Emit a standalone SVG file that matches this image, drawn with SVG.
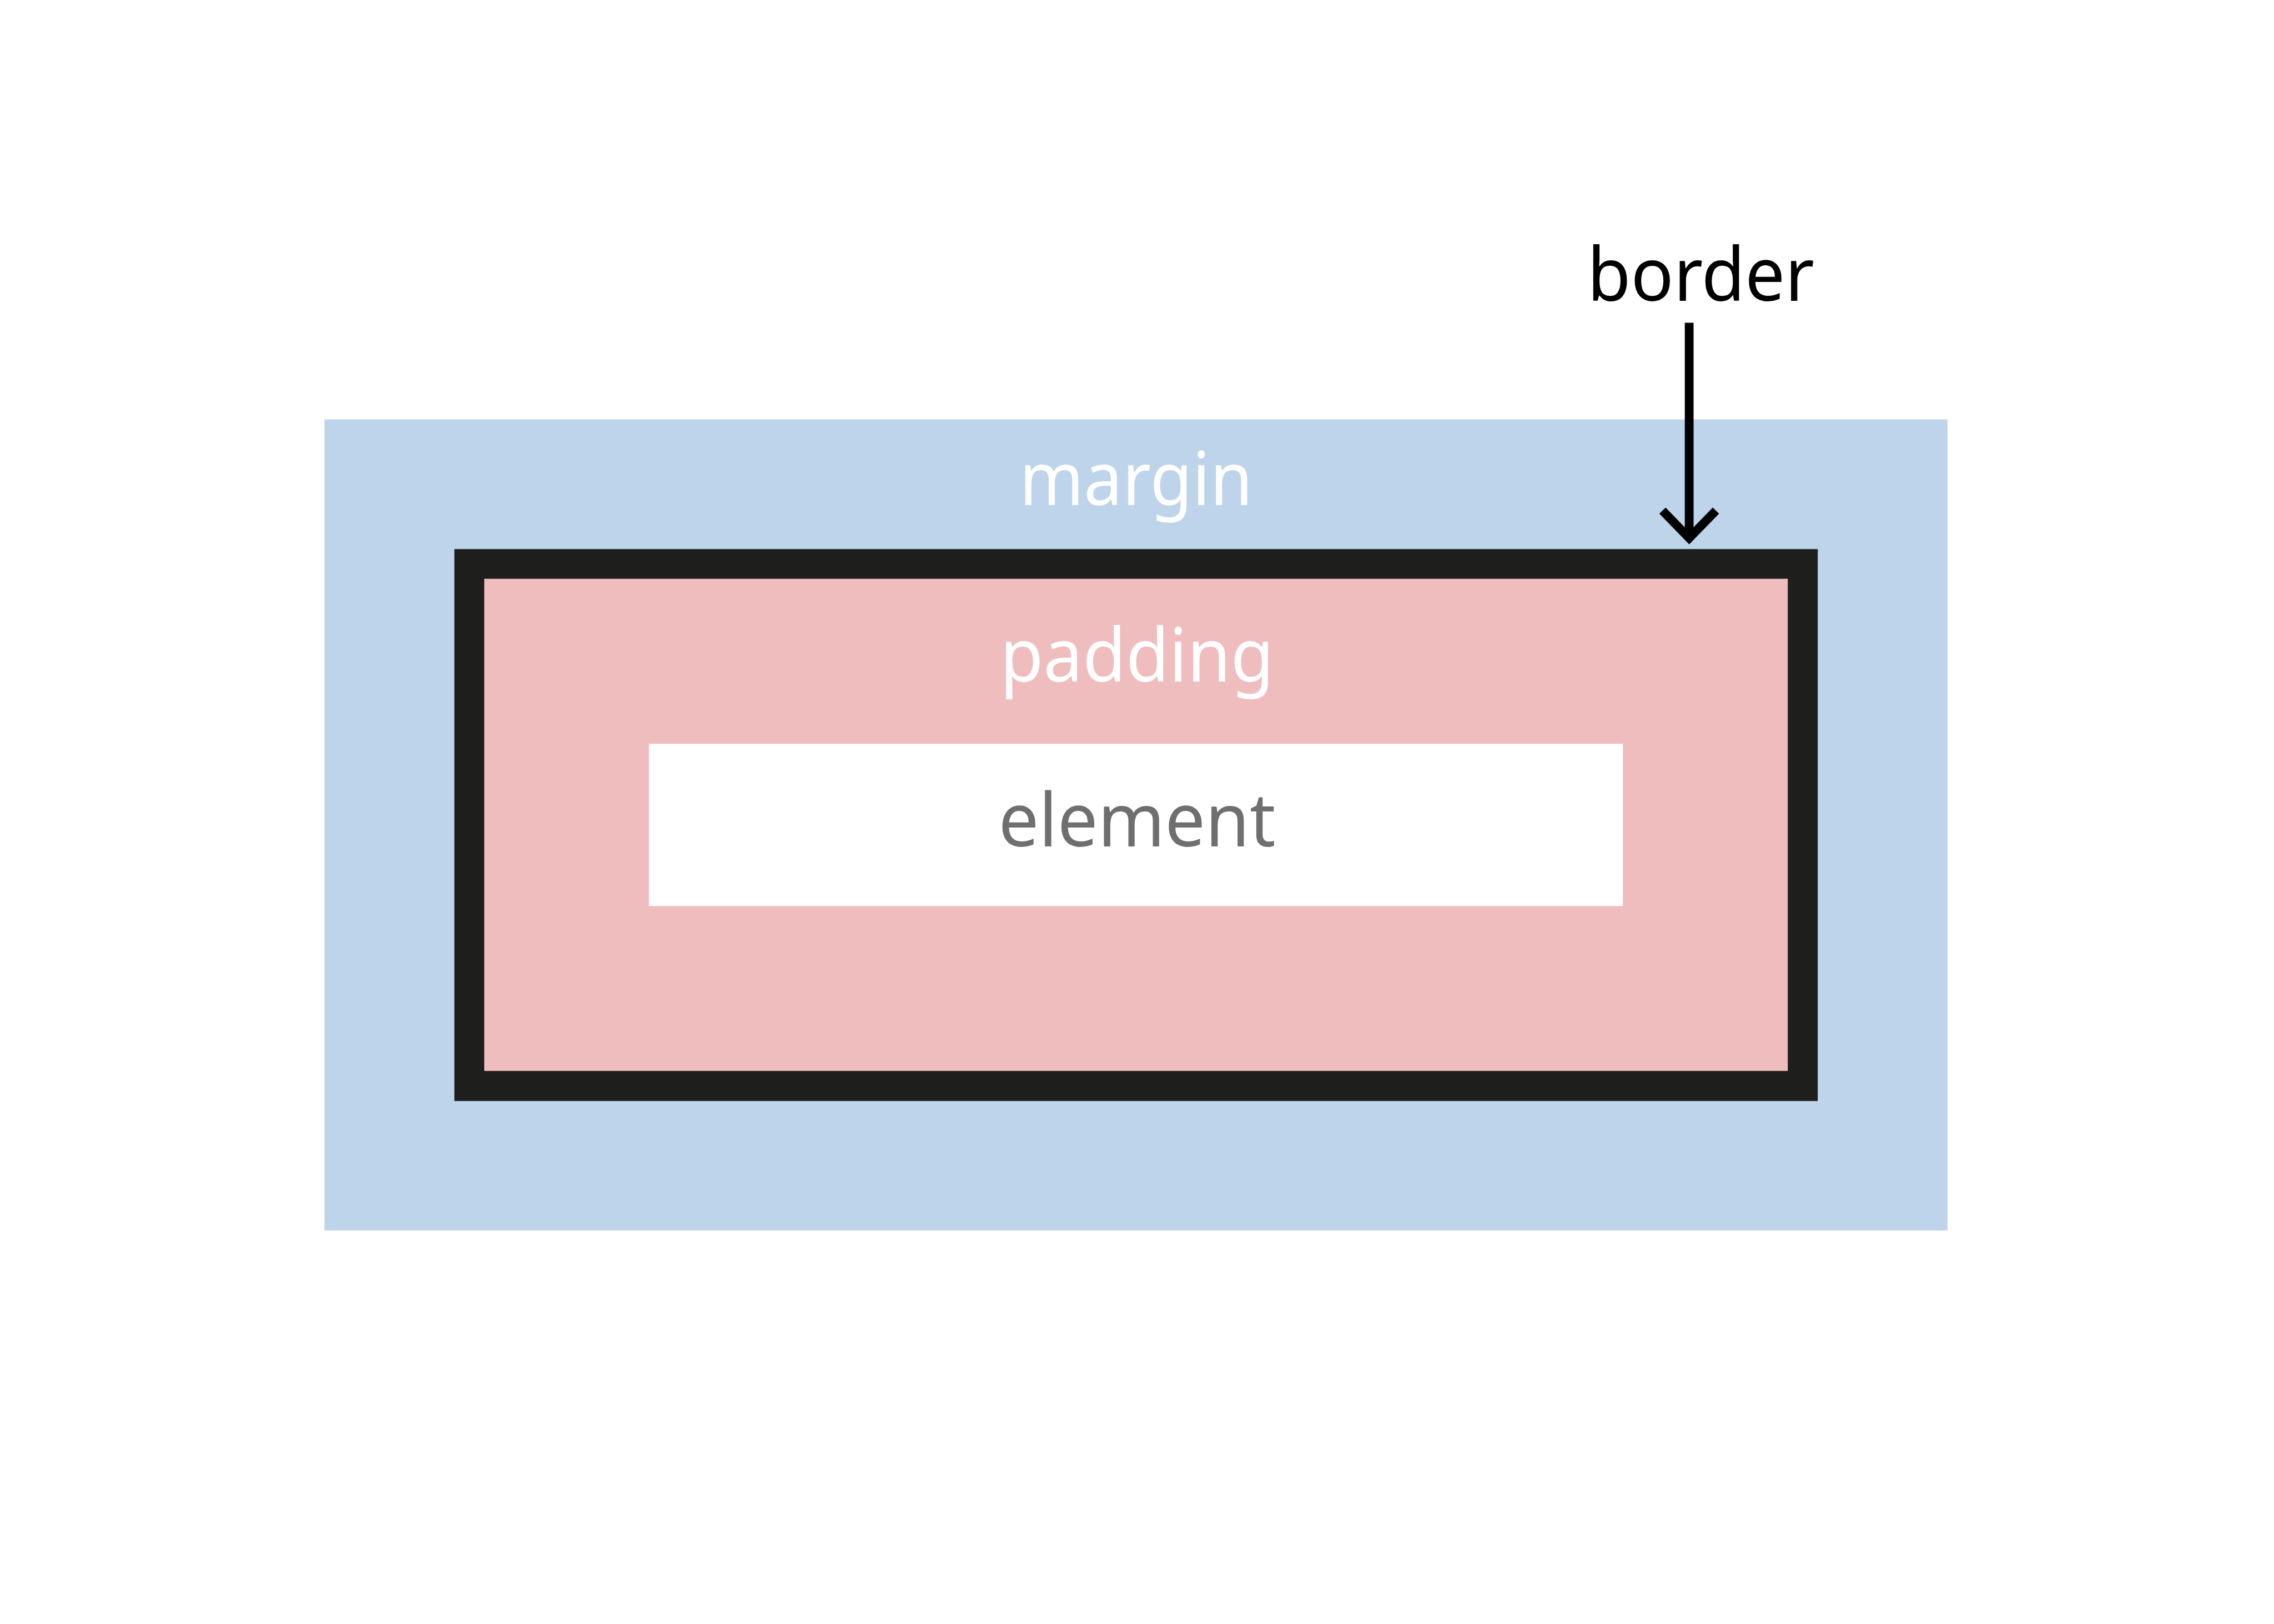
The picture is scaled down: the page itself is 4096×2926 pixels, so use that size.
<svg xmlns="http://www.w3.org/2000/svg" width="4096" height="2926" viewBox="0 0 4096 2926">
  <style>
    .lbl { font-family: "Noto Sans", "Open Sans", "Liberation Sans", sans-serif; font-size: 134px; text-anchor: middle; }
    .white { fill: #FFFFFF; }
    .grey { fill: #6F6F6F; }
    .dark { fill: #000000; }
    .conn { stroke: #000000; stroke-width: 15.8; fill: none; }
  </style>
  <defs>
    <marker id="openArrow" markerUnits="userSpaceOnUse" orient="auto" refX="0" refY="0" markerWidth="140" markerHeight="140" viewBox="-70 -70 140 140" overflow="visible">
      <path d="M -49.5 -48.1 L 0 0 L -49.5 48.1" fill="none" stroke="#000000" stroke-width="15.8" stroke-linejoin="miter" stroke-miterlimit="10"/>
    </marker>
  </defs>
  <rect x="0" y="0" width="4096" height="2926" fill="#FFFFFF"/>

  <g id="margin">
    <rect x="584.4" y="755.7" width="2923.5" height="1461.2" fill="#BDD4EA"/>
    <text class="lbl white" x="2046.3" y="909.8" textLength="420" lengthAdjust="spacingAndGlyphs">margin</text>
  </g>

  <g id="border-box">
    <rect x="818.4" y="989.3" width="2455.8" height="994.4" fill="#1E1E1C"/>
  </g>

  <g id="padding">
    <rect x="872.2" y="1042.8" width="2348" height="886.7" fill="#EFBDBE"/>
    <text class="lbl white" x="2048" y="1228.3" textLength="493" lengthAdjust="spacingAndGlyphs">padding</text>
  </g>

  <g id="element">
    <rect x="1168.9" y="1340.2" width="1754.3" height="292.3" fill="#FFFFFF"/>
    <text class="lbl grey" x="2048" y="1525.3" textLength="499" lengthAdjust="spacingAndGlyphs">element</text>
  </g>

  <g id="border-label">
    <text class="lbl dark" x="3063.5" y="542.2" textLength="409" lengthAdjust="spacingAndGlyphs">border</text>
  </g>

  <g id="connectors">
    <line class="conn" x1="3042.6" y1="581.6" x2="3042.6" y2="969.5" marker-end="url(#openArrow)"/>
  </g>
</svg>
